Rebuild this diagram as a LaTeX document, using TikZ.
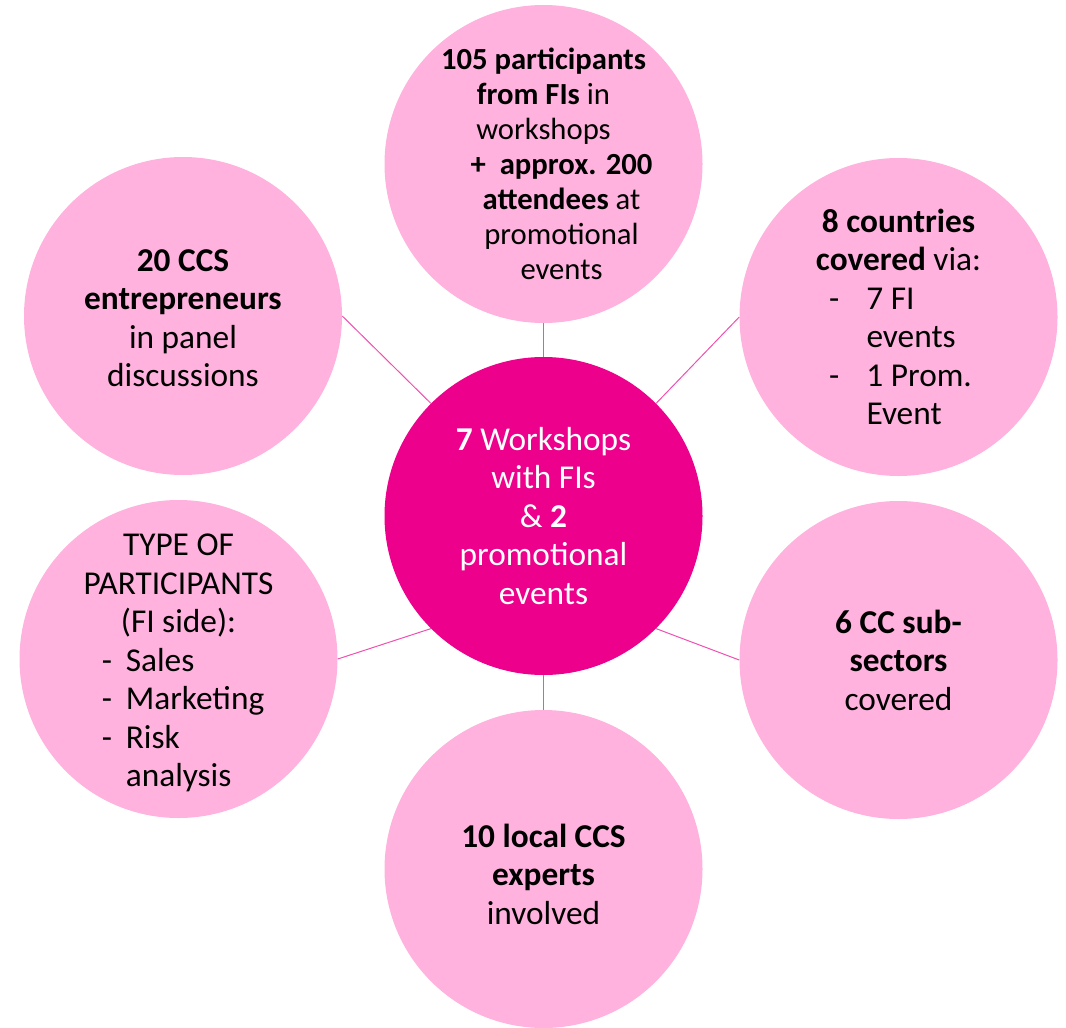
\documentclass[tikz,border=0pt]{standalone}
\usepackage{fontspec}
\setmainfont{Carlito}
\definecolor{softpink}{RGB}{255,178,222}
\definecolor{hotpink}{RGB}{236,0,140}
\definecolor{linkpink}{RGB}{240,80,176}
\tikzstyle{bubble}=[circle, fill=softpink, minimum size=238.5pt, inner sep=0pt]
\tikzstyle{hub}=[bubble, fill=hotpink]
\tikzstyle{txt}=[align=center, inner sep=0pt, font=\fontsize{25}{28.9}\selectfont]
\tikzstyle{link}=[linkpink, line width=0.75pt]
% list line: total width, dash box width, dash, text
\newcommand{\listline}[4]{\makebox[#1][l]{\makebox[#2][l]{#3}#4}}

\begin{document}
\begin{tikzpicture}[x=0.75pt, y=-0.75pt]
\useasboundingbox (0,0) rectangle (1066,1027);
% Bubbles
    \node[hub] (hub) at (543.5,516) {};
    \node[bubble] (top) at (543.5,164) {};
    \node[bubble] (tl) at (183,316) {};
    \node[bubble] (tr) at (898.5,317) {};
    \node[bubble] (bl) at (178.5,659) {};
    \node[bubble] (br) at (898.5,660) {};
    \node[bubble] (bot) at (543.5,869) {};
% Links
    \draw[link] (hub.north) -- (top.south);
    \draw[link] (hub.135) -- (tl.east);
    \draw[link] (hub.45) -- (tr.west);
    \draw[link] (hub.-135) -- (bl.east);
    \draw[link] (hub.-45) -- (br.west);
    \draw[link] (hub.south) -- (bot.north);
% Texts
    \node[txt, text=white] (hub-t) at (hub) {\textbf{7} Workshops\\ with FIs\\ \& \textbf{2}\\ promotional\\ events};
    \node[txt, font=\fontsize{23}{26.25}\selectfont] (top-t) at (top)
        {\textbf{105 participants}\\ \textbf{from FIs} in\\ workshops\\
         \hspace*{27pt}\textbf{+~ approx. 200}\\ \hspace*{27pt}\textbf{attendees} at\\
         \hspace*{27pt}promotional\\ \hspace*{27pt}events};
    \node[txt] (tl-t) at ([yshift=-1.5pt]tl) {\textbf{20 CCS}\\ \textbf{entrepreneurs}\\ in panel\\ discussions};
    \node[txt] (tr-t) at (tr)
        {\textbf{8 countries}\\ \textbf{covered} via:\\
         \listline{104pt}{28pt}{-}{7 FI}\\ \listline{104pt}{28pt}{}{events}\\
         \listline{104pt}{28pt}{-}{1 Prom.}\\ \listline{104pt}{28pt}{}{Event}};
    \node[txt] (bl-t) at ([yshift=-3pt]bl)
        {TYPE OF\\ PARTICIPANTS\\ (FI side):\\
         \listline{115pt}{18pt}{-}{Sales}\\ \listline{115pt}{18pt}{-}{Marketing}\\
         \listline{115pt}{18pt}{-}{Risk}\\ \listline{115pt}{18pt}{}{analysis}};
    \node[txt] (br-t) at (br) {\textbf{6 CC sub-}\\ \textbf{sectors}\\ covered};
    \node[txt] (bot-t) at ([yshift=-4pt]bot) {\textbf{10 local CCS}\\ \textbf{experts}\\ involved};
\end{tikzpicture}
\end{document}
